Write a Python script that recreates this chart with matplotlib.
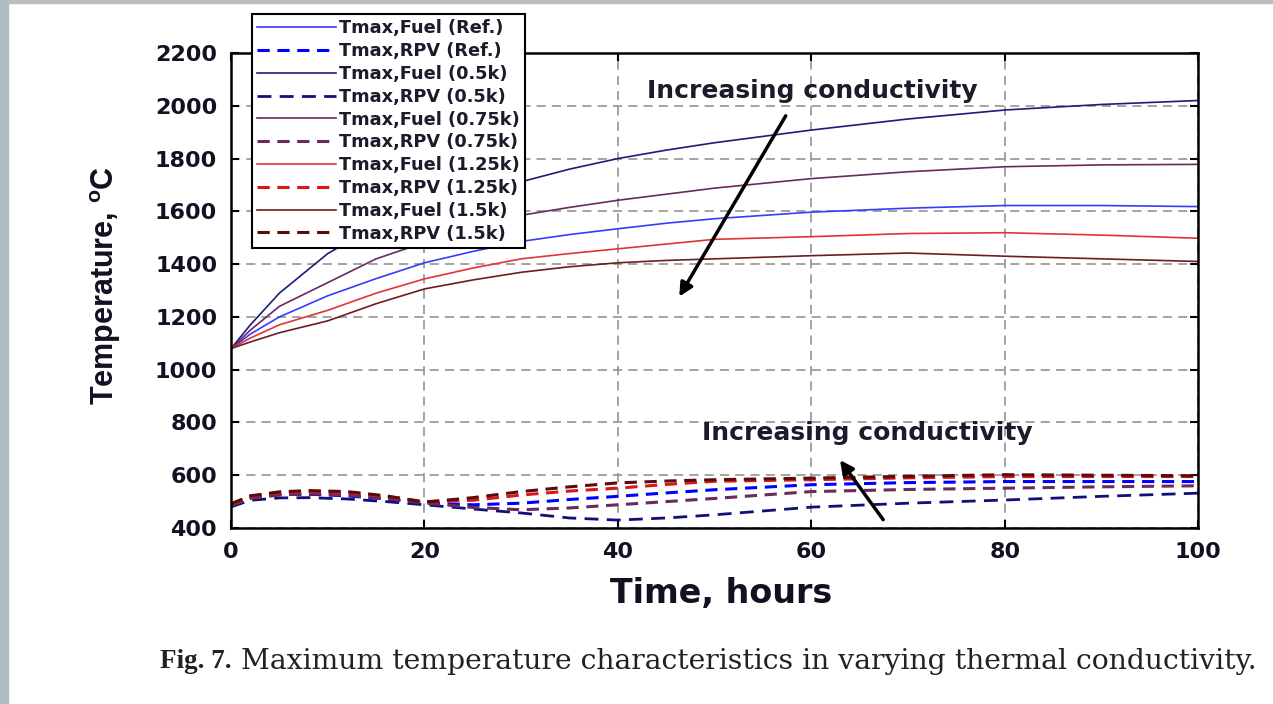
import matplotlib
matplotlib.use("Agg")
import matplotlib.pyplot as plt
from matplotlib.patches import Rectangle

plt.rcParams['font.family'] = ['DejaVu Sans']

# fuel curves (hours, deg C)
t_fuel = [0, 2, 5, 10, 15, 20, 25, 30, 35, 40, 45, 50, 60, 70, 80, 90, 100]
fuel_ref = [1080, 1135, 1200, 1280, 1345, 1405, 1448, 1486, 1512, 1534, 1555, 1572, 1597, 1612, 1622, 1622, 1618]
fuel_05k = [1080, 1170, 1290, 1440, 1545, 1620, 1672, 1712, 1760, 1800, 1832, 1860, 1908, 1950, 1984, 2005, 2020]
fuel_075k = [1080, 1150, 1240, 1330, 1420, 1482, 1538, 1585, 1615, 1642, 1665, 1688, 1724, 1750, 1769, 1776, 1778]
fuel_125k = [1080, 1120, 1170, 1225, 1290, 1344, 1385, 1420, 1440, 1458, 1476, 1494, 1504, 1516, 1519, 1510, 1498]
fuel_15k = [1080, 1105, 1140, 1185, 1250, 1306, 1340, 1369, 1390, 1405, 1414, 1420, 1432, 1442, 1430, 1420, 1410]

# RPV curves
t_rpv = [0, 2, 5, 8, 12, 16, 20, 25, 30, 35, 40, 45, 50, 60, 70, 80, 90, 100]
rpv_ref = [487, 515, 527, 528, 522, 510, 495, 488, 494, 508, 520, 533, 545, 564, 572, 576, 576, 576]
rpv_05k = [480, 505, 514, 515, 510, 500, 488, 472, 457, 438, 430, 438, 450, 479, 494, 506, 520, 532]
rpv_075k = [485, 512, 525, 530, 525, 512, 495, 478, 469, 476, 488, 500, 512, 538, 546, 551, 556, 560]
rpv_125k = [490, 520, 534, 538, 535, 520, 500, 505, 525, 540, 551, 565, 577, 583, 590, 595, 595, 595]
rpv_15k = [492, 522, 537, 542, 538, 522, 498, 515, 538, 556, 571, 578, 583, 589, 596, 602, 600, 598]

fig = plt.figure(figsize=(12.73, 7.04), dpi=100)
fig.patch.set_facecolor('white')

# screenshot border strips
fig.patches.extend([
    Rectangle((0, 0.9957), 1, 0.0043, color='#bdbdbd', transform=fig.transFigure, figure=fig),
    Rectangle((0, 0), 0.0063, 1, color='#b0bec4', transform=fig.transFigure, figure=fig),
])

ax = fig.add_axes([0.1815, 0.25, 0.7597, 0.6747])

ax.plot(t_fuel, fuel_ref, color='#3a3aff', lw=1.2, label='Tmax,Fuel (Ref.)')
ax.plot(t_rpv, rpv_ref, color='#0000ff', lw=2.2, ls=(0, (4, 2.5)), label='Tmax,RPV (Ref.)')
ax.plot(t_fuel, fuel_05k, color='#1c1c7a', lw=1.2, label='Tmax,Fuel (0.5k)')
ax.plot(t_rpv, rpv_05k, color='#10107a', lw=2.0, ls=(0, (5, 3)), label='Tmax,RPV (0.5k)')
ax.plot(t_fuel, fuel_075k, color='#6a2a5c', lw=1.2, label='Tmax,Fuel (0.75k)')
ax.plot(t_rpv, rpv_075k, color='#6a2a5c', lw=2.2, ls=(0, (4, 2.5)), label='Tmax,RPV (0.75k)')
ax.plot(t_fuel, fuel_125k, color='#e03535', lw=1.2, label='Tmax,Fuel (1.25k)')
ax.plot(t_rpv, rpv_125k, color='#dd1515', lw=2.2, ls=(0, (4, 2.5)), label='Tmax,RPV (1.25k)')
ax.plot(t_fuel, fuel_15k, color='#6a1f1f', lw=1.2, label='Tmax,Fuel (1.5k)')
ax.plot(t_rpv, rpv_15k, color='#5a0c0c', lw=2.2, ls=(0, (4, 2.5)), label='Tmax,RPV (1.5k)')

ax.set_xlim(0, 100)
ax.set_ylim(400, 2200)
ax.set_xticks([0, 20, 40, 60, 80, 100])
ax.set_yticks(range(400, 2201, 200))
ax.grid(True, color='#8a8a8a', ls=(0, (6, 4)), lw=1.1)
ax.tick_params(direction='in', length=6, width=1.5, labelsize=16, top=True, right=True)
ax.tick_params(axis='x', pad=10)
ax.tick_params(axis='y', pad=10)
for lab in ax.get_xticklabels() + ax.get_yticklabels():
    lab.set_fontweight('bold')
    lab.set_color('#111122')
for sp in ax.spines.values():
    sp.set_linewidth(1.8)

ax.set_xlabel('Time, hours', fontsize=24, fontweight='bold', color='#111122')
ax.xaxis.set_label_coords(0.507, -0.137)
ax.xaxis.label.set_va('center')
ax.set_ylabel('Temperature, $\\mathregular{^oC}$', fontsize=22, fontweight='bold',
              family='Liberation Sans', color='#111122')
ax.yaxis.set_label_coords(-0.130, 0.51)
ax.yaxis.label.set_va('center')

# annotations
ax.text(60.1, 2057, 'Increasing conductivity', fontsize=18, fontweight='bold', color='#1b1b2b',
        ha='center', va='center')
ax.annotate('', xy=(46.2, 1268), xytext=(57.5, 1971),
            arrowprops=dict(arrowstyle='-|>', color='black', lw=2.5, mutation_scale=20))
ax.text(65.8, 761, 'Increasing conductivity', fontsize=18, fontweight='bold', color='#1b1b2b',
        ha='center', va='center')
ax.annotate('', xy=(62.8, 666), xytext=(67.6, 423),
            arrowprops=dict(arrowstyle='-|>', color='black', lw=2.5, mutation_scale=20))

leg = ax.legend(loc='upper left', bbox_to_anchor=(0.198, 0.980), bbox_transform=fig.transFigure,
                borderaxespad=0, fancybox=False, framealpha=1, edgecolor='black',
                prop=dict(weight='bold', size=12.8), handlelength=4.4, handletextpad=0.2,
                labelspacing=0.27, borderpad=0.3)
leg.get_frame().set_linewidth(1.5)
for txt in leg.get_texts():
    txt.set_color('#1b1b2b')

# caption: bold prefix then normal text right after it
cap_y = 0.06
t1 = fig.text(0.126, cap_y, 'Fig. 7.', fontsize=19.5, fontweight='bold', family='Liberation Serif',
              color='#222222', va='center')
fig.canvas.draw()
bb = t1.get_window_extent(renderer=fig.canvas.get_renderer())
x2 = (bb.x1 + 9) / fig.bbox.width
fig.text(x2, cap_y, 'Maximum temperature characteristics in varying thermal conductivity.',
         fontsize=20.3, family='DejaVu Serif', color='#222222', va='center')

fig.savefig('out.png', dpi=100)
